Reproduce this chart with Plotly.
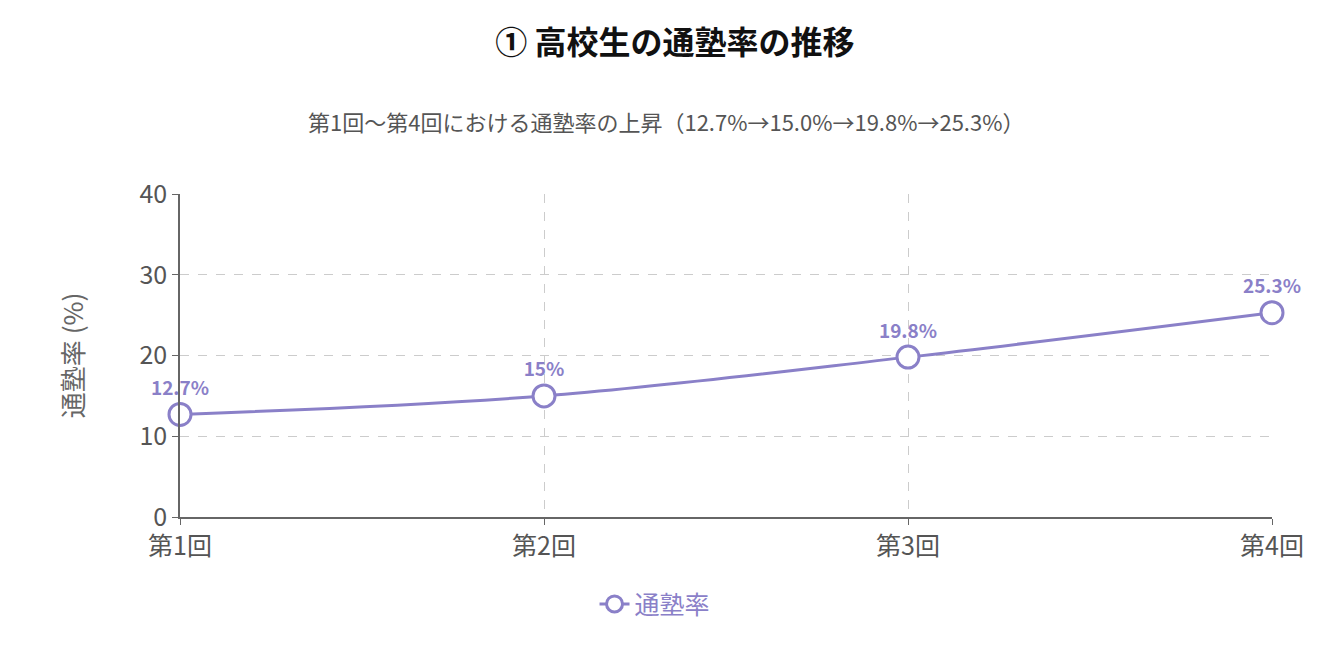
import plotly.graph_objects as go

# data
rounds = ["第1回", "第2回", "第3回", "第4回"]
rates = [12.7, 15.0, 19.8, 25.3]
labels = ["12.7%", "15%", "19.8%", "25.3%"]
y_ticks = [0, 10, 20, 30, 40]

purple = "#8a80c8"
font = "Noto Sans CJK JP"

fig = go.Figure()
fig.add_trace(go.Scatter(
    x=rounds, y=rates, name="通塾率",
    mode="lines+markers+text",
    line=dict(color=purple, width=3, shape="spline", smoothing=1.0),
    marker=dict(size=22, color="white", line=dict(color=purple, width=3)),
    text=labels, textposition="top center",
    textfont=dict(color=purple, size=19, family=font, weight="bold"),
    cliponaxis=False,
))

fig.update_layout(
    width=1334, height=661,
    paper_bgcolor="white", plot_bgcolor="white",
    font=dict(family=font, color="#555"),
    margin=dict(l=172, r=70, t=186, b=152, autoexpand=False),
    title=dict(text="<b>① 高校生の通塾率の推移</b>", x=0.5, xref="container", xanchor="center",
               y=0.947, yanchor="middle", font=dict(size=32, color="#111")),
    annotations=[dict(text="第1回〜第4回における通塾率の上昇（12.7%→15.0%→19.8%→25.3%）",
                      xref="paper", yref="paper", x=(658 - 172) / 1092, y=1.0, yshift=73,
                      xanchor="center", yanchor="middle", showarrow=False,
                      font=dict(size=22, color="#555"))],
    showlegend=True,
    legend=dict(orientation="h", x=0.435, xanchor="center", y=-0.27, yanchor="middle",
                font=dict(size=25, color=purple)),
)
fig.update_xaxes(
    showgrid=True, gridcolor="#ccc", griddash="dash",
    showline=True, linecolor="#666", linewidth=1.5,
    ticks="outside", ticklen=6, tickcolor="#666",
    tickfont=dict(size=25, color="#555"), range=[0, 3],
)
fig.update_yaxes(
    range=[0, 40], tickvals=y_ticks,
    showgrid=True, gridcolor="#ccc", griddash="dash", zeroline=False,
    showline=True, linecolor="#666", linewidth=1.5,
    ticks="outside", ticklen=6, tickcolor="#666",
    tickfont=dict(size=25, color="#555"),
    title=dict(text="通塾率 (%)", font=dict(size=26, color="#666"), standoff=48),
)

fig.write_html("out.html")
